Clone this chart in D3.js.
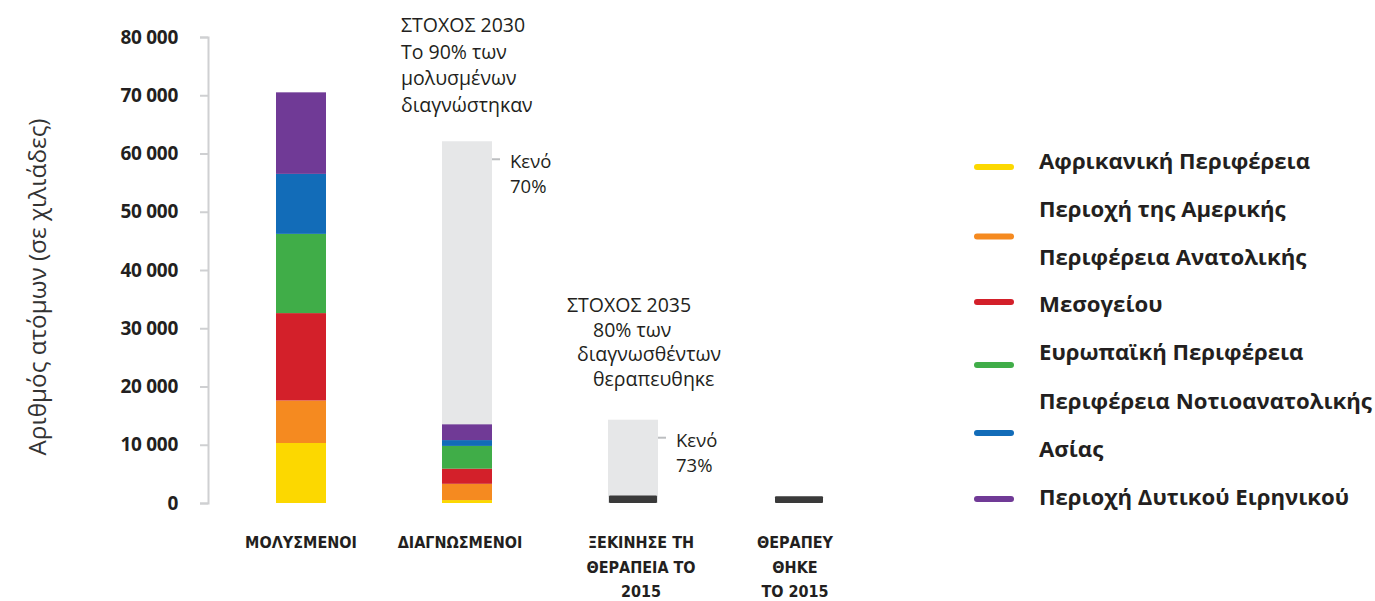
<!DOCTYPE html>
<html>
<head>
<meta charset="utf-8">
<script src="https://cdn.jsdelivr.net/npm/d3@7"></script>
<style>
  html, body { margin: 0; padding: 0; background: #fff; }
  svg { display: block; }
</style>
</head>
<body>
<svg id="chart" width="1375" height="601"></svg>
<script>
// ---------- DATA ----------
const categories = ["ΜΟΛΥΣΜΕΝΟΙ", "ΔΙΑΓΝΩΣΜΕΝΟΙ", "ΞΕΚΙΝΗΣΕ ΤΗ ΘΕΡΑΠΕΙΑ ΤΟ 2015", "ΘΕΡΑΠΕΥΘΗΚΕ ΤΟ 2015"];
const categoryLabelLines = [["ΜΟΛΥΣΜΕΝΟΙ"], ["ΔΙΑΓΝΩΣΜΕΝΟΙ"], ["ΞΕΚΙΝΗΣΕ ΤΗ", "ΘΕΡΑΠΕΙΑ ΤΟ", "2015"], ["ΘΕΡΑΠΕΥ", "ΘΗΚΕ", "ΤΟ 2015"]];
const regions = ["Αφρικανική Περιφέρεια", "Περιοχή της Αμερικής", "Περιφέρεια Ανατολικής Μεσογείου", "Ευρωπαϊκή Περιφέρεια", "Περιφέρεια Νοτιοανατολικής Ασίας", "Περιοχή Δυτικού Ειρηνικού"];
const regionLegendLines = [["Αφρικανική Περιφέρεια"], ["Περιοχή της Αμερικής"], ["Περιφέρεια Ανατολικής", "Μεσογείου"], ["Ευρωπαϊκή Περιφέρεια"], ["Περιφέρεια Νοτιοανατολικής", "Ασίας"], ["Περιοχή Δυτικού Ειρηνικού"]];
const regionColors = ["#fcd800", "#f58a20", "#d3202a", "#40ad48", "#126cb8", "#703a96"];
const infectedByRegion = [10300, 7300, 15000, 13600, 10300, 14000];
const diagnosedByRegion = [500, 2800, 2600, 3900, 1000, 2700];
const startedTreatment2015 = 1100;
const cured2015 = 1000;
const targetTotals = [null, 62100, 14300, null];
const gapLabels = [null, ["Κενό", "70%"], ["Κενό", "73%"], null];
const targetTexts = [
  null,
  ["ΣΤΟΧΟΣ 2030", "Το 90% των", "μολυσμένων", "διαγνώστηκαν"],
  ["ΣΤΟΧΟΣ 2035", "80% των", "διαγνωσθέντων", "θεραπευθηκε"],
  null
];
const yTicks = [0, 10000, 20000, 30000, 40000, 50000, 60000, 70000, 80000];
const yTitle = "Αριθμός ατόμων (σε χιλιάδες)";

// ---------- LAYOUT ----------
const svg = d3.select("#chart");
const y = d3.scaleLinear().domain([0, 80000]).range([503, 37]);
const x = d3.scalePoint().domain(categories).range([301, 799]);
const barW = 50;
const gapColor = "#e6e7e8";
const darkColor = "#3a3a3a";
const textColor = "#231f20";

// Y axis
const yAxis = d3.axisLeft(y).tickValues(yTicks).tickSize(8).tickPadding(22)
  .tickFormat(d => d === 0 ? "0" : d3.format(",")(d).replace(/,/g, " "));
const gy = svg.append("g").attr("transform", "translate(208,0)").call(yAxis);
gy.select(".domain").attr("stroke", "#cfd0d2").attr("stroke-width", 2);
gy.selectAll(".tick line").attr("stroke", "#cfd0d2").attr("stroke-width", 2);
gy.selectAll(".tick text")
  .attr("fill", textColor)
  .style("font-family", "'Open Sans', sans-serif")
  .style("font-weight", 700)
  .style("font-size", "19px")
  .style("letter-spacing", "-0.3px");

svg.append("text")
  .attr("transform", "translate(46,287) rotate(-90)")
  .attr("text-anchor", "middle")
  .attr("fill", "#333")
  .style("font-family", "'Open Sans', sans-serif")
  .style("font-size", "24.3px")
  .text(yTitle);

// Stacked bars
function stackSegments(values) {
  let acc = 0;
  return values.map((v, i) => { const s = { y0: acc, y1: acc + v, color: regionColors[i] }; acc += v; return s; });
}
const stacks = [stackSegments(infectedByRegion), stackSegments(diagnosedByRegion)];

// gap (target) bars
categories.forEach((c, i) => {
  if (targetTotals[i] == null) return;
  svg.append("rect")
    .attr("x", x(c) - barW / 2)
    .attr("width", barW)
    .attr("y", y(targetTotals[i]))
    .attr("height", y(0) - y(targetTotals[i]))
    .attr("fill", gapColor);
});

stacks.forEach((segs, i) => {
  svg.append("g").selectAll("rect").data(segs).join("rect")
    .attr("x", x(categories[i]) - barW / 2)
    .attr("width", barW)
    .attr("y", d => y(d.y1))
    .attr("height", d => y(d.y0) - y(d.y1))
    .attr("fill", d => d.color);
});

[startedTreatment2015, cured2015].forEach((v, k) => {
  const c = categories[k + 2];
  svg.append("rect")
    .attr("x", x(c) - barW / 2 + 1)
    .attr("width", barW - 2)
    .attr("y", y(v) - 1)
    .attr("height", y(0) - y(v) + 1)
    .attr("rx", 1)
    .attr("fill", darkColor);
});

// gap labels with leader lines
categories.forEach((c, i) => {
  if (!gapLabels[i]) return;
  const top = y(targetTotals[i]);
  const xr = x(c) + barW / 2;
  svg.append("line")
    .attr("x1", xr).attr("x2", xr + 8)
    .attr("y1", top + 18).attr("y2", top + 18)
    .attr("stroke", "#bcbec0").attr("stroke-width", 2);
  const t = svg.append("text")
    .attr("fill", textColor)
    .style("font-family", "'Open Sans', sans-serif")
    .style("font-size", "18.5px");
  gapLabels[i].forEach((ln, j) => {
    t.append("tspan").attr("x", xr + 18).attr("y", top + 27 + j * 25).text(ln);
  });
});

// target annotations
const annoIndent = [
  null,
  [0, 0, 0, 0],
  [0, 26, 10, 26],
  null
];
const annoOffsetX = [null, -66, -66, null];
const annoBaseY = [null, 32, 312, null];
const annoStep = [null, 26.5, 24.7, null];
categories.forEach((c, i) => {
  if (!targetTexts[i]) return;
  const t = svg.append("text")
    .attr("fill", textColor)
    .style("font-family", "'Open Sans', sans-serif")
    .style("font-size", "19.5px");
  targetTexts[i].forEach((ln, j) => {
    t.append("tspan")
      .attr("x", x(c) + annoOffsetX[i] + annoIndent[i][j])
      .attr("y", annoBaseY[i] + j * annoStep[i])
      .text(ln);
  });
});

// category labels
categories.forEach((c, i) => {
  const t = svg.append("text")
    .attr("text-anchor", "middle")
    .attr("fill", textColor)
    .style("font-family", "'DejaVu Sans Condensed', 'Liberation Sans Narrow', sans-serif")
    .style("font-stretch", "condensed")
    .style("font-weight", 700)
    .style("font-size", "16px");
  categoryLabelLines[i].forEach((ln, j) => {
    t.append("tspan").attr("x", x(c) + (i === 2 ? 8 : (i === 3 ? -4 : (i === 1 ? -7 : 0)))).attr("y", 548 + j * 24.5).text(ln);
  });
});

// legend
const legendSwatchY = [167, 236.5, 302, 365, 433, 499];
const legendTextY = [[169], [217], [265, 312], [360], [409, 457], [505]];
regions.forEach((r, i) => {
  svg.append("line")
    .attr("x1", 977).attr("x2", 1011)
    .attr("y1", legendSwatchY[i]).attr("y2", legendSwatchY[i])
    .attr("stroke", regionColors[i]).attr("stroke-width", 6)
    .attr("stroke-linecap", "round");
});
const legendRows = [];
regionLegendLines.forEach((lines, i) => lines.forEach((ln, j) => legendRows.push({ text: ln, y: legendTextY[i][j] })));
svg.append("g").selectAll("text").data(legendRows).join("text")
  .attr("x", 1039)
  .attr("y", d => d.y)
  .attr("fill", textColor)
  .style("font-family", "'Open Sans', sans-serif")
  .style("font-weight", 700)
  .style("font-size", "22.2px")
  .text(d => d.text);
</script>
</body>
</html>
